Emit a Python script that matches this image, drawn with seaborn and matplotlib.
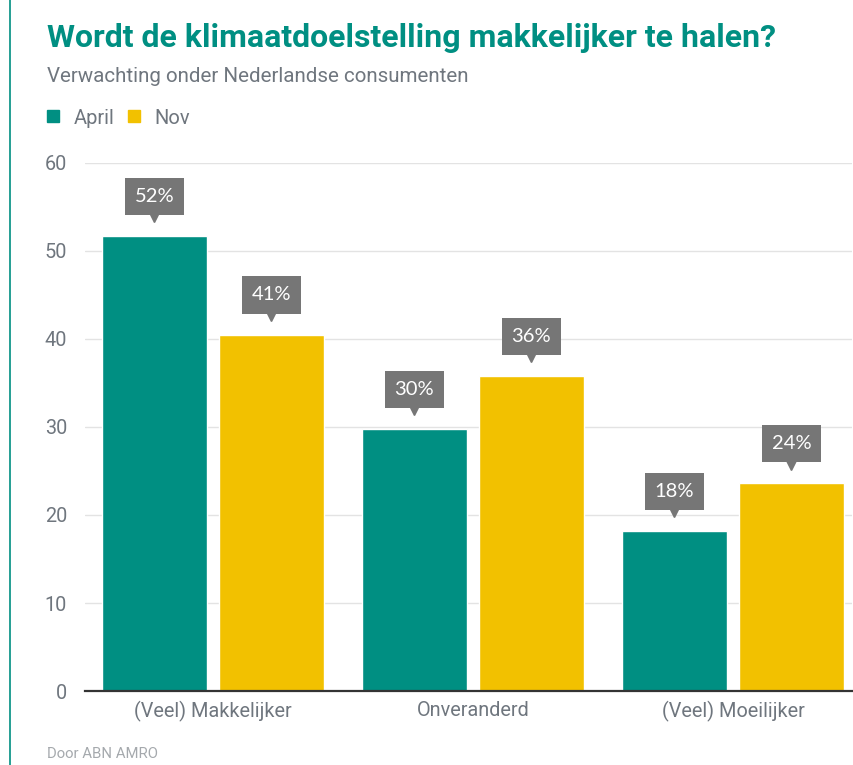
import seaborn as sns
import matplotlib.pyplot as plt
import matplotlib.transforms as mtransforms
import pandas as pd
from matplotlib.lines import Line2D

# data
categories = ['(Veel) Makkelijker', 'Onveranderd', '(Veel) Moeilijker']
periods = ['April', 'Nov']
april = [51.7, 29.8, 18.2]
nov = [40.5, 35.8, 23.6]
april_labels = ['52%', '30%', '18%']
nov_labels = ['41%', '36%', '24%']
yticks = [0, 10, 20, 30, 40, 50, 60]

teal = '#008f82'
yellow = '#f2c100'
grey_txt = '#6f767e'

sns.set_style('white')
plt.rcParams['font.family'] = ['Roboto', 'DejaVu Sans']

df = pd.DataFrame({
    'categorie': categories * 2,
    'periode': ['April'] * 3 + ['Nov'] * 3,
    'waarde': april + nov,
})

fig = plt.figure(figsize=(8.54, 7.65), dpi=100)
ax = fig.add_axes([0.0995, 0.0967, 0.8982, 0.6903])

sns.barplot(data=df, x='categorie', y='waarde', hue='periode', order=categories,
            hue_order=periods, palette=[teal, yellow], width=0.9, gap=0.1,
            saturation=1, legend=False, ax=ax, zorder=2)

ax.set_ylim(0, 60)
ax.set_xlim(-0.492, 2.458)
ax.set_yticks(yticks)
ax.grid(axis='y', color='#e3e3e3', linewidth=1, zorder=0)
for s in ['top', 'right', 'left']:
    ax.spines[s].set_visible(False)
ax.spines['bottom'].set_color('#333333')
ax.spines['bottom'].set_linewidth(1.6)
ax.spines['bottom'].set_zorder(3)
ax.tick_params(axis='both', length=0, labelsize=14.3, colors=grey_txt, pad=7)
ax.tick_params(axis='y', pad=13)
ax.set_xlabel('')
ax.set_ylabel('')

# value labels in grey boxes with a small pointer
labels = april_labels + nov_labels
shift = mtransforms.ScaledTranslation(0, 13.5 / 72, fig.dpi_scale_trans)
for bar, lab in zip(ax.patches, labels):
    x = bar.get_x() + bar.get_width() / 2
    h = bar.get_height()
    ax.annotate(lab, (x, h), xytext=(0, 28.5), textcoords='offset points',
                ha='center', va='center', fontsize=14.5, color='white',
                family=['Lato', 'DejaVu Sans'],
                bbox=dict(boxstyle='square,pad=0.5', fc='#767676', ec='none'))
    ax.plot([x], [h], marker='v', markersize=7, color='#767676', linestyle='none',
            transform=ax.transData + shift, clip_on=False, zorder=4)

# titles
fig.text(47 / 854, 1 - 38 / 765, 'Wordt de klimaatdoelstelling makkelijker te halen?',
         fontsize=23, fontweight='bold', color=teal, va='center', ha='left')
fig.text(47 / 854, 1 - 76 / 765, 'Verwachting onder Nederlandse consumenten',
         fontsize=14.8, color=grey_txt, va='center', ha='left')
fig.text(47 / 854, 1 - 754 / 765, 'Door ABN AMRO',
         fontsize=10.7, color='#a5a9ad', va='center', ha='left')

# legend
handles = [Line2D([], [], marker='s', linestyle='none', markersize=9, color=c) for c in [teal, yellow]]
fig.legend(handles, periods, loc='center left', bbox_to_anchor=(25 / 854, 1 - 118 / 765),
           ncol=2, frameon=False, fontsize=14.5, labelcolor=grey_txt, handletextpad=0.5,
           columnspacing=0.5, handlelength=1.0)

# thin vertical accent line at the left
fig.add_artist(Line2D([10 / 854, 10 / 854], [0, 1], color=teal, linewidth=1.2,
                      transform=fig.transFigure))

fig.savefig('out.png', dpi=100)
